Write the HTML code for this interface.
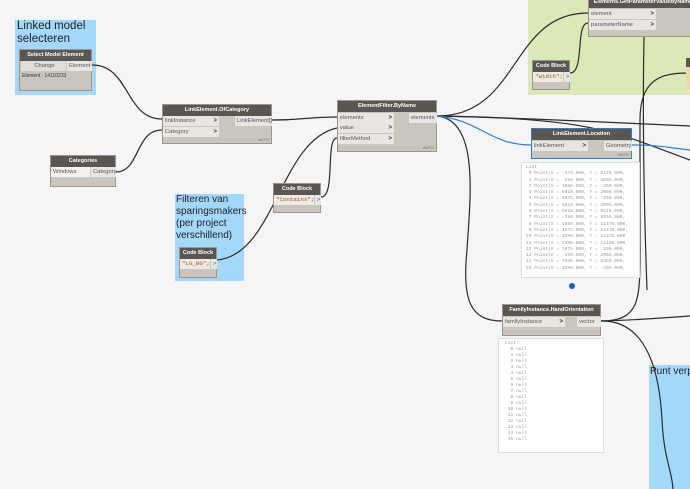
<!DOCTYPE html>
<html><head><meta charset="utf-8"><style>
body{margin:0;width:690px;height:489px;overflow:hidden;background:#f5f5f5;font-family:"Liberation Sans",sans-serif;position:relative}
.a{position:absolute;box-sizing:border-box}
.grp{background:#a3d8fb}
.lbl{font-size:11.5px;color:#222;line-height:13px}
.node{background:#cbc6bd;border:1px solid #9a958f}
.hd{background:#5a5651;color:#fff;font-size:5.5px;font-weight:bold;text-align:center;height:11px;line-height:11px;white-space:nowrap;overflow:hidden}
.row{position:absolute;background:#e8e6e2;font-size:5.8px;color:#555;height:10px;line-height:10px;padding-left:2px;box-sizing:border-box;white-space:nowrap}
.row b{position:absolute;right:2px;top:0;color:#333;font-size:6px}
.prev{background:#fff;border:1px solid #ddd;font-family:"Liberation Mono",monospace;font-size:4.6px;color:#999}
</style></head><body>
<div class="a grp" style="left:15px;top:20px;width:81px;height:75px"></div>
<div class="a lbl" style="left:17px;top:20px">Linked model<br>selecteren</div>
<div class="a grp" style="left:175px;top:194px;width:69px;height:87px"></div>
<div class="a lbl" style="left:176px;top:194px;font-size:10px;line-height:12px">Filteren van<br>sparingsmakers<br>(per project<br>verschillend)</div>
<div class="a" style="left:528px;top:0;width:162px;height:95px;background:#dde8b9"></div>
<div class="a grp" style="left:649px;top:365px;width:41px;height:124px"></div>
<div class="a lbl" style="left:650px;top:365px;font-size:10px;white-space:nowrap">Punt verp</div>

<svg class="a" style="left:0;top:0" width="690" height="489" fill="none" stroke-width="1.2">
<g stroke="#2b2b2b">
<path d="M92,65 C130,65 125,119 162,119"/>
<path d="M116,172 C140,172 135,130 162,130"/>
<path d="M272,120 C305,120 305,117 337,117"/>
<path d="M217,260 C275,255 280,140 337,128"/>
<path d="M321,197 C336,197 325,138 337,138"/>
<path d="M437,116 C520,116 510,13 588,13"/>
<path d="M570,73 C585,73 575,23 588,23"/>
<path d="M437,116 C530,118 600,122 690,126"/>
<path d="M437,116 C600,118 620,135 690,160"/>
<path d="M437,116 C480,120 470,200 467,250 C462,300 470,321 502,321"/>
<path d="M601,321 C640,321 640,300 640,250 L640,120 C640,80 660,73 688,73"/>
<path d="M601,321 C650,320 660,380 662,420 C664,460 672,470 673,489"/>
<path d="M601,321 C640,320 660,318 690,316"/>
<path d="M645,0 C643,60 642,150 647,290"/>
</g>
<g stroke="#2a7fd6">
<path d="M437,116 C480,120 490,145 531,145"/>
<path d="M632,145 C660,145 670,148 690,150"/>
</g>
<circle cx="572" cy="286" r="3" fill="#1a5fb4"/>
</svg>

<div class="a node" style="left:19px;top:49px;width:73px;height:42px"><div class="hd">Select Model Element</div>
<div class="row" style="left:1px;top:11px;width:45px;text-align:center;background:#e0ddd8">Change</div>
<div class="row" style="left:47px;top:11px;width:25px">Element</div>
<div class="a" style="left:2px;top:23px;font-size:5px;color:#333">Element : 14110233</div></div>

<div class="a node" style="left:162px;top:104px;width:110px;height:40px"><div class="hd">LinkElement.OfCategory</div>
<div class="row" style="left:0;top:11px;width:56px">linkInstance<b>&gt;</b></div>
<div class="row" style="left:0;top:22px;width:56px">Category<b>&gt;</b></div>
<div class="row" style="left:72px;top:11px;width:37px">LinkElement[]</div>
<div class="a" style="right:2px;bottom:1px;font-size:4px;color:#666">AUTO</div></div>

<div class="a node" style="left:50px;top:155px;width:66px;height:32px"><div class="hd">Categories</div>
<div class="row" style="left:0;top:11px;width:39px;background:#f2f2f2">Windows</div>
<div class="row" style="left:40px;top:11px;width:25px">Category</div></div>

<div class="a node" style="left:273px;top:183px;width:48px;height:30px"><div class="hd">Code Block</div>
<div class="row" style="left:0;top:11px;width:40px;background:#efeae0;color:#8a5a2a;font-family:'Liberation Mono',monospace">"Contains";</div>
<div class="row" style="left:41px;top:11px;width:6px">&gt;</div></div>

<div class="a node" style="left:179px;top:247px;width:38px;height:31px"><div class="hd">Code Block</div>
<div class="row" style="left:0;top:11px;width:30px;background:#efeae0;color:#8a5a2a;font-family:'Liberation Mono',monospace">"LG_BG";</div>
<div class="row" style="left:31px;top:11px;width:6px">&gt;</div></div>

<div class="a node" style="left:337px;top:100px;width:100px;height:52px"><div class="hd">ElementFilter.ByName</div>
<div class="row" style="left:0;top:12px;width:56px">elements<b>&gt;</b></div>
<div class="row" style="left:0;top:22px;width:56px">value<b>&gt;</b></div>
<div class="row" style="left:0;top:33px;width:56px">filterMethod<b>&gt;</b></div>
<div class="row" style="left:71px;top:12px;width:28px">elements</div>
<div class="a" style="right:2px;bottom:1px;font-size:4px;color:#666">AUTO</div></div>

<div class="a node" style="left:588px;top:-4px;width:110px;height:41px"><div class="hd">Elements.GetParameterValueByName</div>
<div class="row" style="left:0;top:12px;width:67px">element<b>&gt;</b></div>
<div class="row" style="left:0;top:23px;width:67px">parameterName<b>&gt;</b></div></div>

<div class="a node" style="left:532px;top:60px;width:38px;height:30px"><div class="hd">Code Block</div>
<div class="row" style="left:0;top:11px;width:30px;background:#efeae0;color:#8a5a2a;font-family:'Liberation Mono',monospace">"Width";</div>
<div class="row" style="left:31px;top:11px;width:6px">&gt;</div></div>
<div class="a" style="left:686px;top:58px;width:6px;height:31px;background:#f0d7a8;border-top:9px solid #5a5651"></div>

<div class="a node" style="left:531px;top:128px;width:101px;height:31px;border:1px solid #2a7fd6"><div class="hd">LinkElement.Location</div>
<div class="row" style="left:0;top:12px;width:56px">linkElement<b>&gt;</b></div>
<div class="row" style="left:72px;top:12px;width:28px">Geometry</div>
<div class="a" style="right:2px;bottom:1px;font-size:4px;color:#666">AUTO</div></div>
<div class="a prev" style="left:521px;top:162px;width:119px;height:116px;padding:2px 4px;line-height:6.3px;white-space:pre;overflow:hidden">List
 0 Point(X = -270.000, Y = 8170.000,
 1 Point(X = -250.000, Y = 3655.000,
 2 Point(X = 4885.000, Y = -250.000,
 3 Point(X = 6810.000, Y = 2005.000,
 4 Point(X = 1675.000, Y = -250.000,
 5 Point(X = 6810.000, Y = 2005.000,
 6 Point(X = 6810.000, Y = 9215.000,
 7 Point(X = -250.000, Y = 8555.000,
 8 Point(X = 4885.000, Y = 11470.000,
 9 Point(X = 1675.000, Y = 11470.000,
10 Point(X = 3280.000, Y = 11470.000
11 Point(X = 3380.000, Y = 11450.000
12 Point(X = 1675.000, Y = -250.000,
13 Point(X = -250.000, Y = 2665.000,
14 Point(X = 7030.000, Y = 5380.000,
15 Point(X = 3280.000, Y = -250.000,</div>

<div class="a node" style="left:502px;top:304px;width:99px;height:32px"><div class="hd">FamilyInstance.HandOrientation</div>
<div class="row" style="left:0;top:12px;width:62px">familyInstance<b>&gt;</b></div>
<div class="row" style="left:74px;top:12px;width:24px">vector</div></div>
<div class="a prev" style="left:498px;top:338px;width:106px;height:115px;padding:2px 6px;line-height:6px;white-space:pre;overflow:hidden">List
  0 null
  1 null
  2 null
  3 null
  4 null
  5 null
  6 null
  7 null
  8 null
  9 null
 10 null
 11 null
 12 null
 13 null
 14 null
 15 null</div>
</body></html>
